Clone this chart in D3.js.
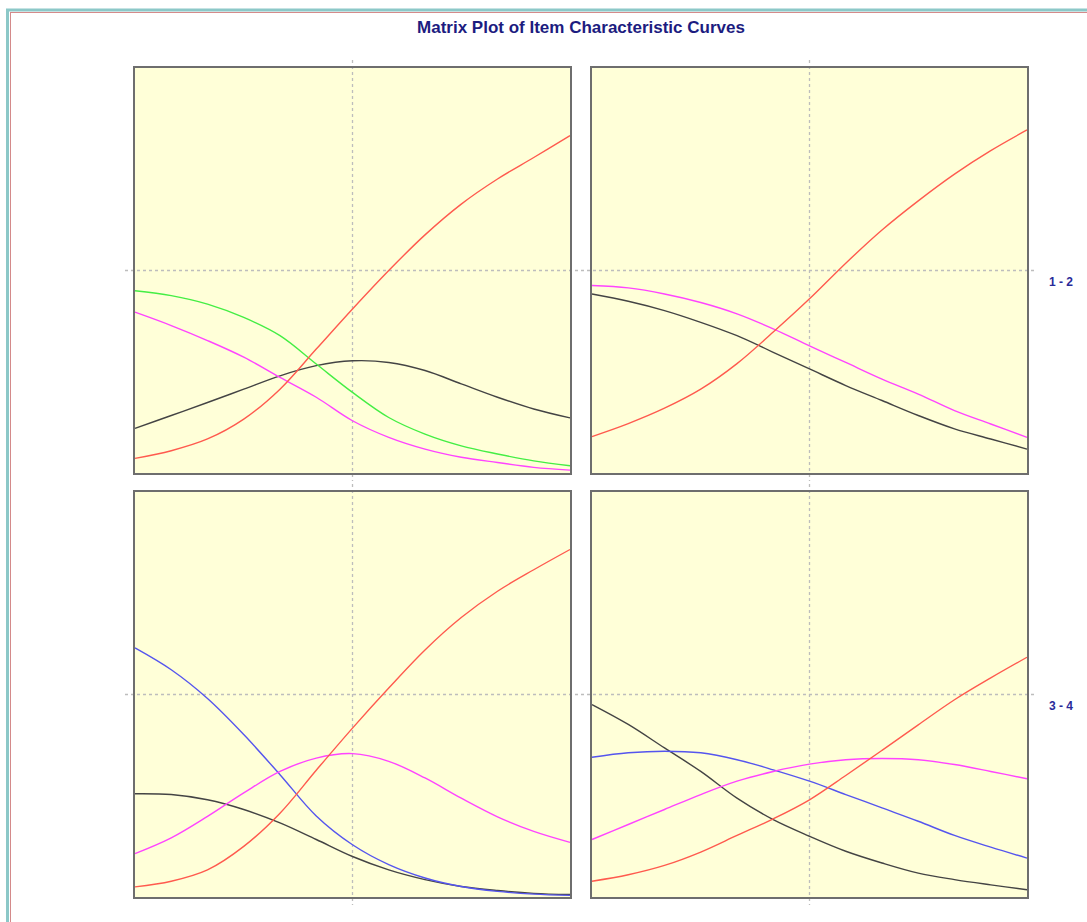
<!DOCTYPE html>
<html>
<head>
<meta charset="utf-8">
<script src="https://cdn.jsdelivr.net/npm/d3@7"></script>
<style>
  body { margin: 0; background: #fff; }
  svg { display: block; }
</style>
</head>
<body>
<div id="chart"></div>
<script>
// theta grid shared by every curve
const theta = [-3, -2.5, -2, -1.5, -1, -0.5, 0, 0.5, 1, 1.5, 2, 2.5, 3];

// item 1 (top left)
const item1Red     = [0.036, 0.055, 0.084, 0.133, 0.207, 0.306, 0.405, 0.500, 0.588, 0.664, 0.726, 0.779, 0.833];
const item1Green   = [0.450, 0.438, 0.417, 0.384, 0.339, 0.269, 0.199, 0.137, 0.096, 0.067, 0.047, 0.030, 0.018];
const item1Magenta = [0.397, 0.364, 0.327, 0.286, 0.236, 0.187, 0.129, 0.088, 0.059, 0.039, 0.026, 0.014, 0.007];
const item1Black   = [0.110, 0.142, 0.174, 0.207, 0.240, 0.265, 0.277, 0.273, 0.253, 0.220, 0.187, 0.158, 0.136];

// item 2 (top right)
const item2Red     = [0.090, 0.122, 0.160, 0.207, 0.270, 0.348, 0.430, 0.518, 0.600, 0.672, 0.738, 0.796, 0.847];
const item2Magenta = [0.463, 0.457, 0.442, 0.421, 0.393, 0.356, 0.314, 0.273, 0.232, 0.195, 0.154, 0.121, 0.088];
const item2Black   = [0.442, 0.424, 0.401, 0.372, 0.339, 0.298, 0.257, 0.216, 0.179, 0.142, 0.109, 0.084, 0.059];

// item 3 (bottom left)
const item3Red     = [0.025, 0.039, 0.067, 0.125, 0.207, 0.313, 0.417, 0.516, 0.610, 0.690, 0.755, 0.808, 0.858];
const item3Blue    = [0.615, 0.561, 0.490, 0.401, 0.302, 0.200, 0.129, 0.080, 0.047, 0.026, 0.014, 0.007, 0.004];
const item3Magenta = [0.107, 0.146, 0.199, 0.257, 0.310, 0.343, 0.354, 0.335, 0.294, 0.244, 0.198, 0.162, 0.135];
const item3Black   = [0.255, 0.253, 0.240, 0.216, 0.183, 0.142, 0.100, 0.067, 0.043, 0.026, 0.016, 0.009, 0.006];

// item 4 (bottom right)
const item4Red     = [0.039, 0.055, 0.078, 0.111, 0.152, 0.193, 0.240, 0.300, 0.362, 0.425, 0.487, 0.541, 0.592];
const item4Black   = [0.475, 0.426, 0.368, 0.310, 0.244, 0.191, 0.150, 0.113, 0.084, 0.059, 0.043, 0.030, 0.018];
const item4Blue    = [0.345, 0.356, 0.360, 0.356, 0.339, 0.314, 0.286, 0.253, 0.220, 0.187, 0.152, 0.123, 0.096];
const item4Magenta = [0.142, 0.179, 0.216, 0.253, 0.286, 0.310, 0.328, 0.339, 0.342, 0.339, 0.327, 0.310, 0.292];

const rowLabels = ["1 - 2", "3 - 4"];
const title = "Matrix Plot of Item Characteristic Curves";

const colors = { red: "#ff5a4e", green: "#44ee44", magenta: "#ff44ff", black: "#444444", blue: "#5555ee" };

const panels = [
  { col: 0, row: 0, series: [["black", item1Black], ["magenta", item1Magenta], ["green", item1Green], ["red", item1Red]] },
  { col: 1, row: 0, series: [["black", item2Black], ["magenta", item2Magenta], ["red", item2Red]] },
  { col: 0, row: 1, series: [["black", item3Black], ["blue", item3Blue], ["magenta", item3Magenta], ["red", item3Red]] },
  { col: 1, row: 1, series: [["black", item4Black], ["blue", item4Blue], ["magenta", item4Magenta], ["red", item4Red]] }
];

const W = 1087, H = 922;
const panelX = [134, 591], panelY = [67, 491], pw = 437, ph = 407;

const svg = d3.select("#chart").append("svg").attr("width", W).attr("height", H);

// outer window frame
svg.append("rect").attr("x", 7.5).attr("y", 10).attr("width", W + 20).attr("height", H + 20)
  .attr("fill", "#fff").attr("stroke", "#8cc8c8").attr("stroke-width", 3);
svg.append("rect").attr("x", 10.5).attr("y", 12.5).attr("width", W + 20).attr("height", H + 20)
  .attr("fill", "none").attr("stroke", "#d48a8a").attr("stroke-width", 1);

svg.append("text").attr("x", 581).attr("y", 33).attr("text-anchor", "middle")
  .style("font-family", "Liberation Sans, Arial, sans-serif").style("font-weight", "bold")
  .style("font-size", "17px").attr("fill", "#1c1c80").text(title);

const x = d3.scaleLinear().domain([-3, 3]).range([1, pw - 1]);
const y = d3.scaleLinear().domain([0, 1]).range([ph - 1, 1]);

const line = d3.line().x((d, i) => x(theta[i])).y(d => y(d)).curve(d3.curveCatmullRom.alpha(0.5));

// panel backgrounds
panels.forEach(p => {
  svg.append("rect").attr("x", panelX[p.col]).attr("y", panelY[p.row])
    .attr("width", pw).attr("height", ph).attr("fill", "#ffffd8");
});

// dashed reference lines at theta = 0 and p = .5
const grid = svg.append("g").attr("stroke", "#bdbdbd").attr("stroke-width", 1.3).attr("stroke-dasharray", "3,3");
panelY.forEach(py => {
  grid.append("line").attr("x1", panelX[0] - 9).attr("x2", panelX[1] + pw + 8)
    .attr("y1", py + y(0.5)).attr("y2", py + y(0.5));
});
panelX.forEach(px => {
  panelY.forEach(py => {
    grid.append("line").attr("x1", px + x(0)).attr("x2", px + x(0))
      .attr("y1", py - 7).attr("y2", py + ph + 7);
  });
});

panels.forEach(p => {
  const g = svg.append("g").attr("transform", `translate(${panelX[p.col]},${panelY[p.row]})`);
  p.series.forEach(([c, vals]) => {
    g.append("path").datum(vals).attr("d", line).attr("fill", "none")
      .attr("stroke", colors[c]).attr("stroke-width", 1.4);
  });
  g.append("rect").attr("x", 0).attr("y", 0).attr("width", pw).attr("height", ph)
    .attr("fill", "none").attr("stroke", "#6e6e6e").attr("stroke-width", 2);
});

rowLabels.forEach((lab, i) => {
  svg.append("text").attr("x", 1061).attr("y", panelY[i] + y(0.5) + 15).attr("text-anchor", "middle")
    .style("font-family", "Liberation Sans, Arial, sans-serif").style("font-weight", "bold")
    .style("font-size", "12px").attr("fill", "#2a2a9a").text(lab);
});
</script>
</body>
</html>
